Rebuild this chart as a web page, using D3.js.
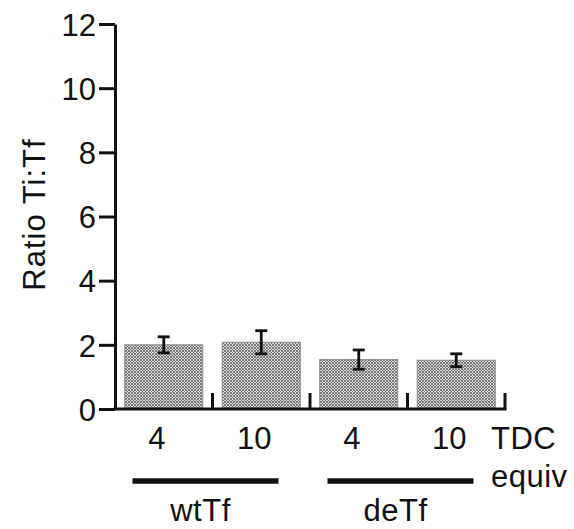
<!DOCTYPE html>
<html>
<head>
<meta charset="utf-8">
<script src="https://cdn.jsdelivr.net/npm/d3@7"></script>
<style>
  html, body { margin: 0; padding: 0; background: #fff; }
  svg text { font-family: "Liberation Sans", Arial, Helvetica, sans-serif; fill: #111; }
</style>
</head>
<body>
<svg id="chart" width="574" height="529"></svg>
<script>
// Ti:Tf ratio per transferrin type and TDC equivalents
const categories = ["wtTf-4", "wtTf-10", "deTf-4", "deTf-10"];
const equivLabels = ["4", "10", "4", "10"];
const ratioMeans = [2.0, 2.08, 1.54, 1.52];
const ratioErrors = [0.25, 0.36, 0.30, 0.20];
const groupNames = ["wtTf", "deTf"];
const groupMembers = [["wtTf-4", "wtTf-10"], ["deTf-4", "deTf-10"]];
const yTicks = [0, 2, 4, 6, 8, 10, 12];

const svg = d3.select("#chart");
const fontSize = 31;

const y = d3.scaleLinear().domain([0, 12]).range([409, 24]);
const x = d3.scaleBand().domain(categories).range([115, 505])
  .paddingInner(0.2).paddingOuter(0.1);
const step = x.step();
const labelShift = -7;

// crosshatch fill
const defs = svg.append("defs");
const pat = defs.append("pattern")
  .attr("id", "hatch").attr("patternUnits", "userSpaceOnUse")
  .attr("width", 3).attr("height", 3);
pat.append("rect").attr("width", 3).attr("height", 3).attr("fill", "#dcdcdc");
pat.append("path").attr("d", "M0,0 L3,3 M3,0 L0,3")
  .attr("stroke", "#555").attr("stroke-width", 0.75);

// bars
svg.append("g").selectAll("rect")
  .data(categories)
  .join("rect")
  .attr("x", d => x(d))
  .attr("y", (d, i) => y(ratioMeans[i]))
  .attr("width", x.bandwidth())
  .attr("height", (d, i) => y(0) - y(ratioMeans[i]))
  .attr("fill", "url(#hatch)")
  .attr("stroke", "#8a8a8a")
  .attr("stroke-width", 1);

// error bars
const eb = svg.append("g").attr("stroke", "#111").attr("stroke-width", 2.8).attr("fill", "none");
categories.forEach((c, i) => {
  const cx = x(c) + x.bandwidth() / 2;
  const hi = y(ratioMeans[i] + ratioErrors[i]);
  const lo = y(ratioMeans[i] - ratioErrors[i]);
  eb.append("line").attr("x1", cx).attr("x2", cx).attr("y1", hi).attr("y2", lo);
  eb.append("line").attr("x1", cx - 6).attr("x2", cx + 6).attr("y1", hi).attr("y2", hi);
  eb.append("line").attr("x1", cx - 6).attr("x2", cx + 6).attr("y1", lo).attr("y2", lo);
});

// y axis
const yAxis = svg.append("g")
  .attr("transform", `translate(${x.range()[0]},0)`)
  .call(d3.axisLeft(y).tickValues(yTicks).tickSize(16).tickSizeOuter(0).tickPadding(3));
yAxis.select(".domain").attr("stroke", "#111").attr("stroke-width", 3);
yAxis.selectAll(".tick line").attr("stroke", "#111").attr("stroke-width", 3);
yAxis.selectAll(".tick text")
  .attr("font-size", fontSize).attr("fill", "#111")
  .attr("dy", "0.36em")
  .style("font-family", "'Liberation Sans', Arial, sans-serif");

// x axis baseline with separator ticks
const xr = x.range();
svg.append("line")
  .attr("x1", xr[0] - 1.5).attr("x2", xr[1] + 1.5)
  .attr("y1", y(0)).attr("y2", y(0))
  .attr("stroke", "#111").attr("stroke-width", 3);
svg.append("g").selectAll("line")
  .data(categories)
  .join("line")
  .attr("x1", d => x(d) + x.bandwidth() + (step - x.bandwidth()) / 2)
  .attr("x2", d => x(d) + x.bandwidth() + (step - x.bandwidth()) / 2)
  .attr("y1", y(0)).attr("y2", y(0) - 16)
  .attr("stroke", "#111").attr("stroke-width", 3);

// TDC equivalent labels
svg.append("g").selectAll("text")
  .data(categories)
  .join("text")
  .attr("x", d => x(d) + x.bandwidth() / 2 + labelShift)
  .attr("y", 449)
  .attr("text-anchor", "middle")
  .attr("font-size", fontSize)
  .text((d, i) => equivLabels[i]);

svg.append("text").attr("x", 491).attr("y", 449)
  .attr("font-size", fontSize).attr("letter-spacing", 0.5).text("TDC");
svg.append("text").attr("x", 491).attr("y", 487)
  .attr("font-size", fontSize).attr("letter-spacing", 0.5).text("equiv");

// group bars and names
groupNames.forEach((g, gi) => {
  const m = groupMembers[gi];
  const left = x(m[0]) + x.bandwidth() / 2;
  const right = x(m[m.length - 1]) + x.bandwidth() / 2;
  const mid = (left + right) / 2 + labelShift;
  svg.append("line")
    .attr("x1", mid - 73).attr("x2", mid + 73)
    .attr("y1", 481).attr("y2", 481)
    .attr("stroke", "#111").attr("stroke-width", 5.5);
  svg.append("text")
    .attr("x", mid - 5).attr("y", 521)
    .attr("text-anchor", "middle")
    .attr("font-size", fontSize)
    .attr("letter-spacing", 0.5)
    .text(g);
});

// y axis title
svg.append("text")
  .attr("transform", `translate(45,${(y(0) + y(12)) / 2 - 2}) rotate(-90)`)
  .attr("text-anchor", "middle")
  .attr("font-size", fontSize)
  .attr("letter-spacing", 1)
  .text("Ratio Ti:Tf");
</script>
</body>
</html>
